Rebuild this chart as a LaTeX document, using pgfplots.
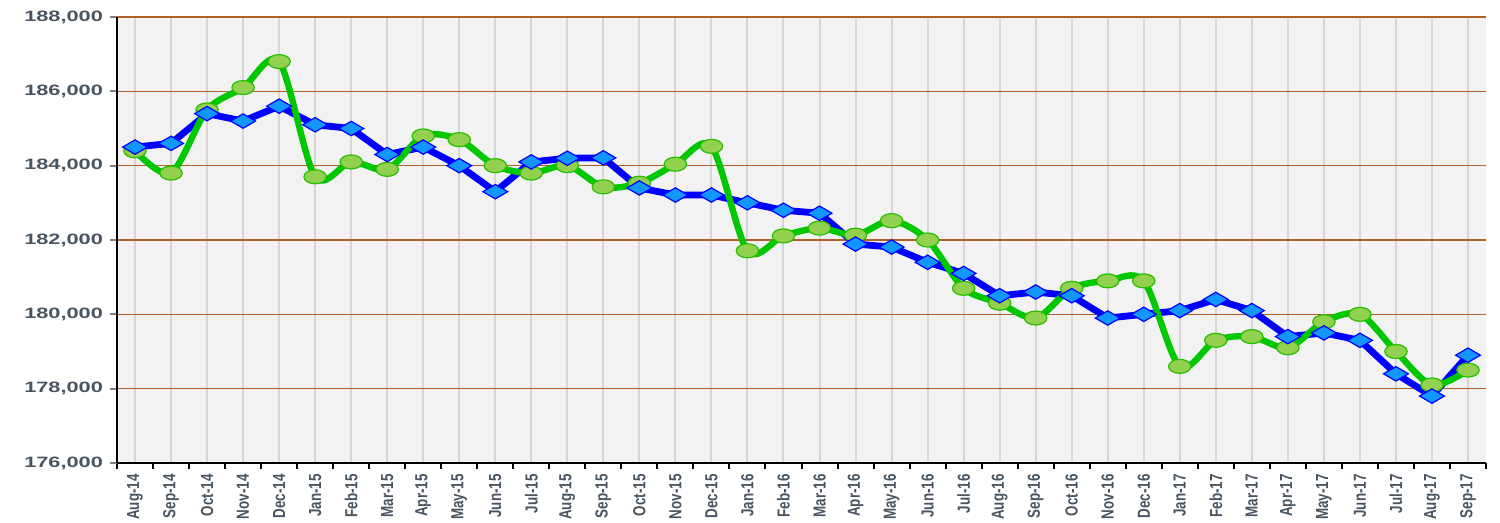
\documentclass[border=0pt]{standalone}
\usepackage{pgfplots}
\usepackage{pgfplotstable}
\pgfplotsset{compat=1.18}
\usepackage{fontspec}
\setmainfont{Liberation Sans}
\definecolor{txt}{RGB}{72,84,96}
\definecolor{gridbrown}{RGB}{176,96,40}
\definecolor{vgrid}{RGB}{214,214,214}
\definecolor{bgc}{RGB}{242,242,242}
\definecolor{gline}{RGB}{0,200,0}
\definecolor{gfill}{RGB}{146,208,80}
\definecolor{gedge}{RGB}{40,190,0}
\definecolor{bline}{RGB}{0,0,255}
\definecolor{bfill}{RGB}{20,150,255}
\newcommand\XL[1]{\scalebox{1}[1.3]{#1}}
\pgfplotstableread{
i green blue
0 184400 184500
1 183800 184600
2 185500 185400
3 186100 185200
4 186800 185600
5 183700 185100
6 184100 185000
7 183900 184300
8 184800 184500
9 184700 184000
10 184000 183300
11 183800 184100
12 184000 184200
13 183430 184210
14 183530 183400
15 184040 183210
16 184520 183210
17 181710 183000
18 182110 182800
19 182320 182720
20 182130 181890
21 182520 181810
22 182000 181400
23 180700 181100
24 180300 180500
25 179900 180600
26 180700 180500
27 180900 179900
28 180900 180000
29 178600 180100
30 179300 180400
31 179400 180100
32 179100 179400
33 179800 179500
34 180000 179300
35 179000 178400
36 178100 177800
37 178500 178900
}\data
\begin{document}
\begin{tikzpicture}
\useasboundingbox (0,0) rectangle (750pt,261.5pt);
\begin{axis}[
  at={(58.5pt,30pt)}, anchor=south west,
  width=684.5pt, height=223pt, scale only axis,
  xmin=-0.5, xmax=37.5, ymin=176000, ymax=188000,
  axis x line*=bottom, axis y line*=left,
  axis line style={black, line width=1.4pt},
  axis background/.style={fill=bgc},
  xtick={0,...,37},
  xticklabels={\XL{Aug-14},\XL{Sep-14},\XL{Oct-14},\XL{Nov-14},\XL{Dec-14},
    \XL{Jan-15},\XL{Feb-15},\XL{Mar-15},\XL{Apr-15},\XL{May-15},\XL{Jun-15},\XL{Jul-15},\XL{Aug-15},\XL{Sep-15},\XL{Oct-15},\XL{Nov-15},\XL{Dec-15},
    \XL{Jan-16},\XL{Feb-16},\XL{Mar-16},\XL{Apr-16},\XL{May-16},\XL{Jun-16},\XL{Jul-16},\XL{Aug-16},\XL{Sep-16},\XL{Oct-16},\XL{Nov-16},\XL{Dec-16},
    \XL{Jan-17},\XL{Feb-17},\XL{Mar-17},\XL{Apr-17},\XL{May-17},\XL{Jun-17},\XL{Jul-17},\XL{Aug-17},\XL{Sep-17}},
  major x tick style={draw=none},
  minor xtick={-0.5,0.5,...,37.6},
  minor x tick style={black, line width=1pt},
  minor tick length=2.8pt,
  xmajorgrids, x grid style={vgrid, line width=1pt},
  ytick={176000,178000,...,188000},
  ymajorgrids, y grid style={gridbrown, line width=0.7pt},
  y tick style={gray, line width=1pt}, major tick length=3.5pt,
  tick align=outside,
  scaled y ticks=false,
  yticklabel={\scalebox{1.45}[1]{\pgfmathprintnumber[fixed,precision=0,1000 sep={,}]{\tick}}},
  yticklabel style={font=\bfseries\fontsize{7.5}{9}\selectfont, text=txt},
  xticklabel style={rotate=90, anchor=east, font=\bfseries\fontsize{6.7}{8}\selectfont, text=txt, inner sep=2pt},
  /pgf/number format/assume math mode=true,
]
\addplot[bline, line width=3.4pt, no marks] table[x=i,y=blue]{\data};
\addplot[gline, line width=3.2pt, smooth, no marks] table[x=i,y=green]{\data};
\addplot[only marks, mark=*, mark size=3.5pt, mark options={xscale=1.6, fill=gfill, draw=gedge, line width=0.6pt}] table[x=i,y=green]{\data};
\addplot[only marks, mark=diamond*, mark size=3.6pt, mark options={xscale=2.3, fill=bfill, draw=bline, line width=0.6pt}] table[x=i,y=blue]{\data};
\end{axis}
\end{tikzpicture}
\end{document}
